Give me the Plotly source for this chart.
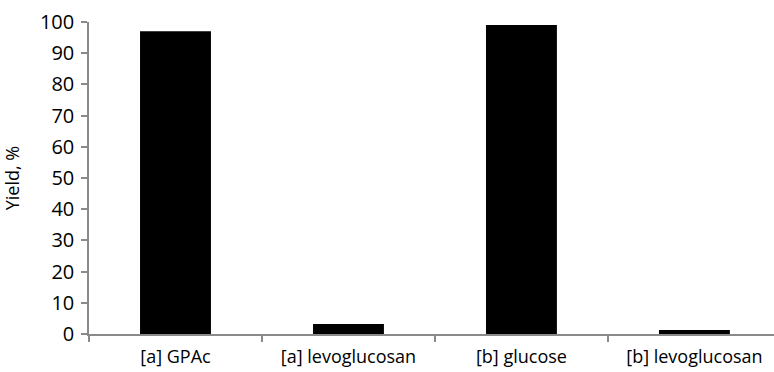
import plotly.graph_objects as go

# Product yields for each run
categories = ["[a] GPAc", "[a] levoglucosan", "[b] glucose", "[b] levoglucosan"]
yields = [97, 3.2, 99, 1.3]
y_ticks = list(range(0, 101, 10))

axis_grey = "#8a8a8a"
font_family = "Open Sans, Lato, sans-serif"

fig = go.Figure(
    go.Bar(
        x=categories,
        y=yields,
        marker=dict(color="black", line=dict(width=0)),
        width=0.41,
    )
)

fig.update_layout(
    width=774,
    height=372,
    margin=dict(l=89, r=0, t=22, b=38),
    paper_bgcolor="white",
    plot_bgcolor="white",
    showlegend=False,
    font=dict(family=font_family, size=16, color="#000000"),
)

fig.update_xaxes(
    type="category",
    range=[-0.5, 3.46],
    showline=True,
    linecolor=axis_grey,
    linewidth=1.5,
    ticks="outside",
    tickson="boundaries",
    ticklen=6,
    tickwidth=1.5,
    tickcolor=axis_grey,
    showgrid=False,
    zeroline=False,
    tickfont=dict(size=18),
    ticklabelstandoff=6,
)

fig.update_yaxes(
    range=[0, 100],
    tickvals=y_ticks,
    showline=True,
    linecolor=axis_grey,
    linewidth=1.5,
    ticks="outside",
    ticklen=6,
    tickwidth=1.5,
    tickcolor=axis_grey,
    showgrid=False,
    zeroline=False,
    tickfont=dict(size=20),
    ticklabelstandoff=3,
    title=dict(text="Yield, %", font=dict(size=18), standoff=16),
)

fig.write_html("out.html")
